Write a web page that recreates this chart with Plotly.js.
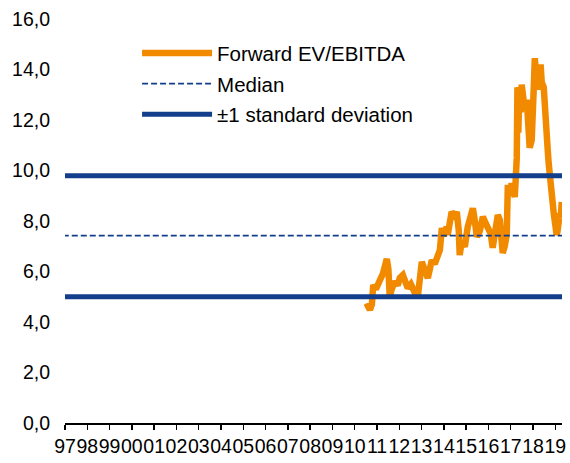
<!DOCTYPE html>
<html>
<head>
<meta charset="utf-8">
<script src="https://cdn.plot.ly/plotly-3.0.1.min.js"></script>
<style>html,body{margin:0;padding:0;background:#fff;}#chart{width:570px;height:463px;}</style>
</head>
<body>
<div id="chart"></div>
<script>
// Decimal years
const dates = [2010.53,2010.59,2010.68,2010.77,2010.83,2010.95,2011.04,2011.13,2011.26,2011.35,2011.44,2011.51,2011.57,2011.66,2011.80,2011.93,2012.02,2012.16,2012.25,2012.38,2012.52,2012.61,2012.70,2012.83,2012.92,2013.01,2013.14,2013.28,2013.37,2013.46,2013.59,2013.68,2013.82,2013.91,2014.00,2014.13,2014.17,2014.26,2014.35,2014.49,2014.58,2014.67,2014.71,2014.80,2014.94,2015.07,2015.16,2015.30,2015.39,2015.48,2015.61,2015.75,2015.88,2016.01,2016.10,2016.19,2016.29,2016.42,2016.51,2016.60,2016.64,2016.73,2016.82,2016.87,2016.96,2017.04,2017.09,2017.18,2017.22,2017.27,2017.30,2017.34,2017.39,2017.45,2017.49,2017.54,2017.63,2017.72,2017.81,2017.85,2017.94,2017.99,2018.03,2018.08,2018.14,2018.21,2018.28,2018.34,2018.39,2018.48,2018.52,2018.57,2018.61,2018.66,2018.70,2018.75,2018.84,2018.93,2018.97,2019.06,2019.10,2019.20,2019.24,2019.29];
const evEbitda = [4.74,4.6,4.48,4.7,5.47,5.3,5.55,5.66,5.9,6.4,6.5,6.1,5.0,5.3,5.6,5.45,5.74,5.86,5.6,5.34,5.5,5.2,5.15,5.0,5.6,6.38,6.06,5.74,6.1,6.45,6.3,6.57,6.85,7.72,7.4,7.77,7.45,7.9,8.36,8.2,8.36,7.6,6.65,7.2,6.98,7.77,8.0,8.5,8.0,7.37,7.6,8.17,7.9,7.72,7.5,6.94,7.5,8.24,8.04,7.3,6.73,7.0,7.45,9.43,9.0,9.5,9.23,8.95,9.6,10.5,13.3,11.5,13.3,12.3,13.4,12.7,12.4,12.8,11.5,10.9,11.2,11.9,13.2,14.45,13.8,13.9,13.2,14.2,13.5,13.3,12.9,12.4,12.0,10.8,10.3,9.8,8.55,8.3,8.04,7.45,7.6,8.3,8.1,8.75];
const medianValue = 7.42;
const stdUpper = 9.79;
const stdLower = 5.0;
const spanDates = [1996.9, 2019.3];
const yearTicks = [1997,1998,1999,2000,2001,2002,2003,2004,2005,2006,2007,2008,2009,2010,2011,2012,2013,2014,2015,2016,2017,2018,2019];
const yearLabels = ['97','98','99','00','01','02','03','04','05','06','07','08','09','10','11','12','13','14','15','16','17','18','19'];
const yTicks = [0,2,4,6,8,10,12,14,16];

const navy = '#123E8C';
const orange = '#F28A00';

const traces = [
  {x: dates, y: evEbitda, type:'scatter', mode:'lines', name:'Forward EV/EBITDA',
   legendgroup:'a', line:{color:orange, width:6.5}},
  {x: spanDates, y: [medianValue, medianValue], type:'scatter', mode:'lines', name:'Median',
   legendgroup:'b', line:{color:navy, width:1.6, dash:'6px,3px'}},
  {x: spanDates.concat([null], spanDates), y: [stdUpper, stdUpper, null, stdLower, stdLower],
   type:'scatter', mode:'lines', name:'±1 standard deviation', connectgaps:false,
   legendgroup:'c', line:{color:navy, width:5}}
];

const layout = {
  width:570, height:463,
  margin:{l:65, r:8, t:19, b:40},
  paper_bgcolor:'#fff', plot_bgcolor:'#fff',
  font:{family:'Liberation Sans, Arial, sans-serif', size:19, color:'#000'},
  separators:', ',
  showlegend:true,
  legend:{x:0.145, y:0.965, xanchor:'left', yanchor:'top', bgcolor:'rgba(0,0,0,0)',
          font:{size:20.5}, itemwidth:70, traceorder:'grouped', tracegroupgap:1},
  xaxis:{range:[1997,2019.3], tickmode:'array', tickvals:yearTicks, ticktext:yearLabels,
         showgrid:false, zeroline:false, showline:true, linecolor:'#000', linewidth:1.5,
         ticks:'outside', ticklen:5, tickwidth:1.5, tickcolor:'#000', tickangle:0,
         tickfont:{size:19.5}},
  yaxis:{range:[0,16], tickmode:'array', tickvals:yTicks, tickformat:'.1f',
         showgrid:false, zeroline:false, showline:false, ticks:'', ticklabelstandoff:14,
         tickfont:{size:19.5}}
};

Plotly.newPlot('chart', traces, layout, {displayModeBar:false, staticPlot:true});
</script>
</body>
</html>
